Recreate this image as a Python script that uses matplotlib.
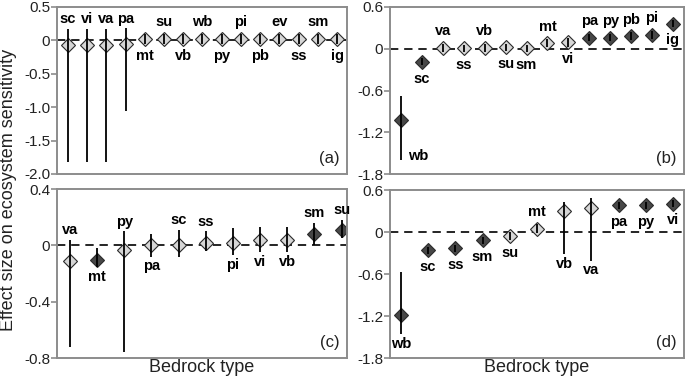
import matplotlib
matplotlib.use("Agg")
import matplotlib.pyplot as plt

plt.rcParams['font.family'] = ['Liberation Sans', 'DejaVu Sans']
plt.rcParams['axes.unicode_minus'] = False

# ---- data ----
# (a)
names_a = ['sc', 'vi', 'va', 'pa', 'mt', 'su', 'vb', 'wb', 'py', 'pi', 'pb', 'ev', 'ss', 'sm', 'ig']
vals_a = [-0.07, -0.07, -0.07, -0.05, 0.02, 0.02, 0.02, 0.02, 0.02, 0.02, 0.02, 0.02, 0.02, 0.02, 0.02]
lo_a = [-1.82, -1.82, -1.82, -1.06, -0.06, -0.06, -0.06, -0.06, -0.06, -0.06, -0.06, -0.06, -0.06, -0.06, -0.06]
hi_a = [0.17, 0.17, 0.17, 0.18, 0.1, 0.1, 0.1, 0.1, 0.1, 0.1, 0.1, 0.1, 0.1, 0.1, 0.1]
shade_a = ['l'] * 15

# (b)
names_b = ['wb', 'sc', 'va', 'ss', 'vb', 'su', 'sm', 'mt', 'vi', 'pa', 'py', 'pb', 'pi', 'ig']
vals_b = [-1.02, -0.19, 0.01, 0.01, 0.01, 0.02, 0.01, 0.08, 0.09, 0.16, 0.16, 0.18, 0.2, 0.36]
lo_b = [-1.6, -0.24, -0.05, -0.04, -0.05, -0.03, -0.04, 0.02, 0.03, 0.11, 0.11, 0.12, 0.14, 0.31]
hi_b = [-0.68, -0.14, 0.07, 0.06, 0.07, 0.07, 0.06, 0.14, 0.15, 0.21, 0.21, 0.24, 0.26, 0.41]
shade_b = ['d', 'd', 'l', 'l', 'l', 'l', 'l', 'l', 'l', 'd', 'd', 'd', 'd', 'd']

# (c)
names_c = ['va', 'mt', 'py', 'pa', 'sc', 'ss', 'pi', 'vi', 'vb', 'sm', 'su']
vals_c = [-0.11, -0.105, -0.03, 0.0, 0.005, 0.015, 0.02, 0.035, 0.035, 0.08, 0.11]
lo_c = [-0.72, -0.155, -0.76, -0.08, -0.08, -0.04, -0.07, -0.05, -0.05, 0.0, 0.05]
hi_c = [0.04, -0.02, 0.1, 0.08, 0.11, 0.1, 0.12, 0.13, 0.13, 0.16, 0.18]
shade_c = ['l', 'd', 'l', 'l', 'l', 'l', 'l', 'l', 'l', 'd', 'd']

# (d)
names_d = ['wb', 'sc', 'ss', 'sm', 'su', 'mt', 'vb', 'va', 'pa', 'py', 'vi']
vals_d = [-1.19, -0.26, -0.23, -0.12, -0.06, 0.05, 0.3, 0.34, 0.38, 0.385, 0.405]
lo_d = [-1.46, -0.31, -0.28, -0.17, -0.12, -0.02, -0.32, -0.41, 0.33, 0.335, 0.355]
hi_d = [-0.57, -0.21, -0.18, -0.07, 0.0, 0.12, 0.43, 0.48, 0.43, 0.435, 0.455]
shade_d = ['d', 'd', 'd', 'd', 'l', 'l', 'l', 'l', 'd', 'd', 'd']

# label side: u = above, d = below, r = right of bar end
side_a = ['u', 'u', 'u', 'u', 'd', 'u', 'd', 'u', 'd', 'u', 'd', 'u', 'd', 'u', 'd']
side_b = ['r', 'd', 'u', 'd', 'u', 'd', 'd', 'u', 'd', 'u', 'u', 'u', 'u', 'd']
side_c = ['u', 'd', 'u', 'd', 'u', 'u', 'd', 'd', 'd', 'u', 'u']
side_d = ['d', 'd', 'd', 'd', 'd', 'u', 'd', 'd', 'd', 'd', 'd']

DARK = '#474747'
LIGHT = '#d6d6d6'
SPINE = '#8c8c8c'

fig = plt.figure(figsize=(6.85, 3.8), dpi=100)
W, H = 685.0, 380.0
ax_a = fig.add_axes([57 / W, 1 - 174 / H, 290 / W, 167 / H])
ax_b = fig.add_axes([390 / W, 1 - 174 / H, 294 / W, 167 / H])
ax_c = fig.add_axes([57 / W, 1 - 358 / H, 290 / W, 169 / H])
ax_d = fig.add_axes([390 / W, 1 - 358 / H, 294 / W, 168 / H])


def panel(ax, names, vals, lo, hi, shade, side, ylim, yticks, xpad, letter):
    n = len(names)
    xs = list(range(1, n + 1))
    ax.set_xlim(1 - xpad[0], n + xpad[1])
    ax.set_ylim(*ylim)
    ax.axhline(0, color='black', lw=1.2, ls=(0, (5, 3.5)), zorder=1)
    for x, v, s in zip(xs, vals, shade):
        ax.plot(x, v, marker='D', ms=7.5, mfc=DARK if s == 'd' else LIGHT,
                mec='#2a2a2a', mew=0.8, ls='none', zorder=2)
    ax.vlines(xs, lo, hi, color='black', lw=1.3, zorder=3)

    # points per data unit on y
    pts = ax.bbox.height * 72.0 / fig.dpi / (ylim[1] - ylim[0])
    for x, v, l, h, nm, sd in zip(xs, vals, lo, hi, names, side):
        if sd == 'u':
            off = max(12, (h - v) * pts + 7)
            ax.annotate(nm, (x, v), xytext=(0, off), textcoords='offset points',
                        ha='center', va='center', fontsize=10.5, fontweight='bold')
        elif sd == 'd':
            off = max(12, (v - l) * pts + 7)
            ax.annotate(nm, (x, v), xytext=(0, -off), textcoords='offset points',
                        ha='center', va='center', fontsize=10.5, fontweight='bold')
        else:
            ax.annotate(nm, (x, l), xytext=(12, 3), textcoords='offset points',
                        ha='center', va='center', fontsize=10.5, fontweight='bold')

    ax.set_yticks(yticks)
    ax.set_yticklabels(['0' if t == 0 else '%.1f' % t for t in yticks])
    ax.set_xticks([])
    for sp in ax.spines.values():
        sp.set_color(SPINE)
        sp.set_linewidth(1.4)
    ax.tick_params(axis='y', direction='out', length=4, width=1.2, color=SPINE,
                   labelsize=11, labelcolor='#222222', pad=1)
    ax.text(0.975, 0.05, letter, transform=ax.transAxes, ha='right', va='bottom',
            fontsize=12, color='#222222')


panel(ax_a, names_a, vals_a, lo_a, hi_a, shade_a, side_a, (-2.0, 0.5),
      [-2.0, -1.5, -1.0, -0.5, 0, 0.5], (0.57, 0.52), '(a)')
panel(ax_b, names_b, vals_b, lo_b, hi_b, shade_b, side_b, (-1.8, 0.6),
      [-1.8, -1.2, -0.6, 0, 0.6], (0.53, 0.53), '(b)')
panel(ax_c, names_c, vals_c, lo_c, hi_c, shade_c, side_c, (-0.8, 0.4),
      [-0.8, -0.4, 0, 0.4], (0.48, 0.2), '(c)')
panel(ax_d, names_d, vals_d, lo_d, hi_d, shade_d, side_d, (-1.8, 0.6),
      [-1.8, -1.2, -0.6, 0, 0.6], (0.4, 0.4), '(d)')

ax_c.set_xlabel('Bedrock type', fontsize=13, labelpad=1, color='#222222')
ax_d.set_xlabel('Bedrock type', fontsize=13, labelpad=1, color='#222222')
fig.text(0.013, 0.5, 'Effect size on ecosystem sensitivity', rotation=90,
         ha='center', va='center', fontsize=13, color='#222222')

fig.savefig('out.png', dpi=100)
